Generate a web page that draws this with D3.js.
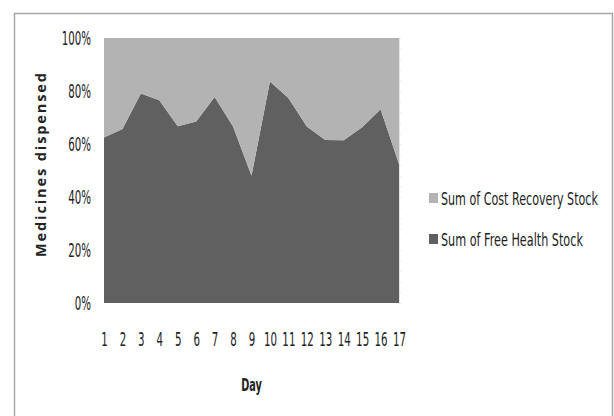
<!DOCTYPE html>
<html>
<head>
<meta charset="utf-8">
<script src="https://cdn.jsdelivr.net/npm/d3@7"></script>
<style>
  body { margin:0; background:#fff; }
  text { font-family: "DejaVu Sans Condensed", "DejaVu Sans", sans-serif; font-stretch: condensed; fill:#222; }
</style>
</head>
<body>
<div id="chart"></div>
<script>
// data
const days = [1,2,3,4,5,6,7,8,9,10,11,12,13,14,15,16,17]
// share of free health stock, in %
const freeHealth = [62.5,65.7,79.1,76.5,66.7,68.5,77.7,66.6,48.0,83.6,77.4,66.6,61.5,61.4,66.3,73.1,52.5]
const costRecovery = freeHealth.map(v => 100 - v)
const yTicks = [0,20,40,60,80,100]
const seriesNames = ["Sum of Cost Recovery Stock", "Sum of Free Health Stock"]
const colors = {"Sum of Free Health Stock":"#606060", "Sum of Cost Recovery Stock":"#b3b3b3"}

const narrow = "'DejaVu Sans Condensed', 'DejaVu Sans', sans-serif"
const sx = 0.6   // the picture's text is tall and thin

const W = 614, H = 416
const margin = {top:38, right:215, bottom:113, left:104},
  width = W - margin.left - margin.right,
  height = H - margin.top - margin.bottom

const svgRoot = d3.select("#chart")
  .append("svg")
    .attr("width", W)
    .attr("height", H)

// outer frame
svgRoot.append("rect")
  .attr("x", 14.5).attr("y", 13.5)
  .attr("width", 598).attr("height", 410)
  .attr("fill", "none")
  .attr("stroke", "#a6a6a6")
  .attr("stroke-width", 1.5)

const svg = svgRoot.append("g")
  .attr("transform", "translate(" + margin.left + "," + margin.top + ")")

const x = d3.scaleLinear().domain([1, 17]).range([0, width])
const y = d3.scaleLinear().domain([0, 100]).range([height, 0])

const table = days.map((d, i) => ({
  day: d,
  "Sum of Free Health Stock": freeHealth[i],
  "Sum of Cost Recovery Stock": costRecovery[i]
}))

const stack = d3.stack().keys(["Sum of Free Health Stock", "Sum of Cost Recovery Stock"])
const layers = stack(table)

const area = d3.area()
  .x(d => x(d.data.day))
  .y0(d => y(d[0]))
  .y1(d => y(d[1]))

svg.selectAll("path.layer")
  .data(layers)
  .enter()
  .append("path")
    .attr("class", "layer")
    .attr("d", area)
    .attr("fill", d => colors[d.key])

// faint secondary edge on the right
const yMinor = d3.range(0, 101, 4)
svg.append("g")
  .attr("transform", "translate(" + width + ",0)")
  .call(d3.axisRight(y).tickValues(yMinor).tickSize(2).tickFormat(""))
  .call(g => g.selectAll("line, path").attr("stroke", "#e4e4e4"))

// squeeze axis labels sideways, keeping their anchor point
function squeeze(g) {
  g.selectAll("text").each(function() {
    const t = d3.select(this)
    const x0 = +t.attr("x") || 0
    t.attr("x", x0 / sx).attr("transform", "scale(" + sx + ",1)")
  })
}

//y axis
svg.append("g")
  .call(d3.axisLeft(y).tickValues(yTicks).tickSize(0).tickPadding(13).tickFormat(v => v + "%"))
  .call(g => g.select(".domain").remove())
  .call(g => g.selectAll("text")
    .style("font-family", narrow)
    .style("font-size", "19px")
    .attr("fill", "#222"))
  .call(squeeze)

//x axis
svg.append("g")
  .attr("transform", "translate(0," + height + ")")
  .call(d3.axisBottom(x).tickValues(days).tickSize(0).tickPadding(30).tickFormat(d3.format("d")))
  .call(g => g.select(".domain").remove())
  .call(g => g.selectAll("text")
    .style("font-family", narrow)
    .style("font-size", "19px")
    .attr("fill", "#222"))
  .call(squeeze)

// axis titles
svgRoot.append("text")
  .attr("transform", "translate(46,165) rotate(-90)")
  .attr("text-anchor", "middle")
  .attr("textLength", 184)
  .attr("lengthAdjust", "spacing")
  .style("font-family", "'Open Sans', 'DejaVu Sans', sans-serif")
  .style("font-stretch", "normal")
  .style("font-weight", "bold")
  .style("font-size", "14.5px")
  .text("Medicines dispensed")

svgRoot.append("text")
  .attr("x", (margin.left + width / 2) / sx)
  .attr("y", 391)
  .attr("transform", "scale(" + sx + ",1)")
  .attr("text-anchor", "middle")
  .style("font-family", narrow)
  .style("font-weight", "bold")
  .style("font-size", "18px")
  .text("Day")

// legend
const legendW = [157, 142]
const legend = svgRoot.append("g")
  .selectAll("g")
  .data(seriesNames)
  .enter()
  .append("g")
    .attr("transform", (d, i) => "translate(429," + (198 + i * 41) + ")")

legend.append("rect")
  .attr("x", 0).attr("y", -5)
  .attr("width", 9).attr("height", 10)
  .attr("fill", d => colors[d])

legend.append("text")
  .attr("y", 6.5)
  .style("font-family", narrow)
  .style("font-size", "17px")
  .text(d => d)
  .each(function(d, i) {
    const k = legendW[i] / this.getComputedTextLength()
    d3.select(this)
      .attr("x", 12 / k)
      .attr("transform", "scale(" + k + ",1)")
  })
</script>
</body>
</html>
